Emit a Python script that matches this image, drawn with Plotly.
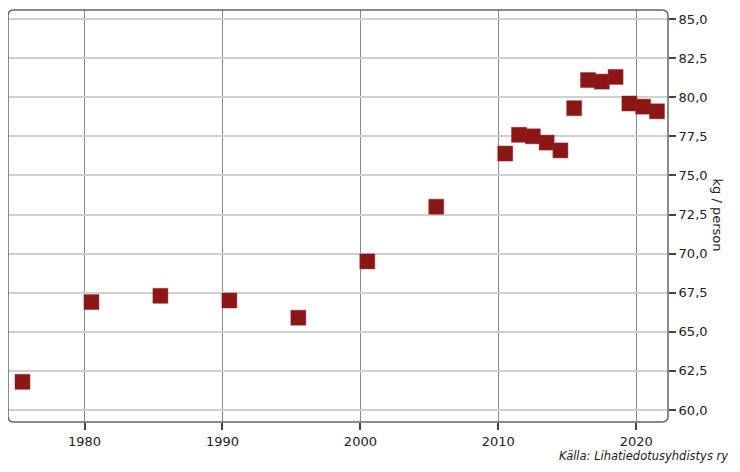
import plotly.graph_objects as go

years = [1975, 1980, 1985, 1990, 1995, 2000, 2005, 2010, 2011, 2012, 2013, 2014,
         2015, 2016, 2017, 2018, 2019, 2020, 2021]
values = [61.8, 66.9, 67.3, 67.0, 65.9, 69.5, 73.0, 76.4, 77.6, 77.5, 77.1, 76.6,
          79.3, 81.1, 81.0, 81.3, 79.6, 79.4, 79.1]
x_ticks = [1980, 1990, 2000, 2010, 2020]
y_ticks = [60, 62.5, 65, 67.5, 70, 72.5, 75, 77.5, 80, 82.5, 85]

# page body has an 8px margin, so the figure is drawn at offset (8, 8)
W, H = 732, 464
ML, MR, MT, MB = 0, 72, 2, 50
pw, ph = W - ML - MR, H - MT - MB

# mid-year placement
xs = [y + 0.5 for y in years]

fig = go.Figure()
fig.add_trace(go.Scatter(
    x=xs, y=values, mode="markers",
    marker=dict(symbol="square", size=15, color="#8b1616",
                line=dict(color="#9a2a2a", width=0.5)),
    hoverinfo="x+y", showlegend=False,
))

# rounded border path in paper coords
r = 6
rx, ry = r / pw, r / ph
path = (f"M {rx},0 L {1-rx},0 Q 1,0 1,{ry} L 1,{1-ry} Q 1,1 {1-rx},1 "
        f"L {rx},1 Q 0,1 0,{1-ry} L 0,{ry} Q 0,0 {rx},0 Z")

fig.update_layout(
    width=W, height=H,
    margin=dict(l=ML, r=MR, t=MT, b=MB),
    paper_bgcolor="white", plot_bgcolor="white",
    separators=",.",
    font=dict(family="DejaVu Sans, Verdana, sans-serif", size=13, color="#222"),
    xaxis=dict(
        range=[1974.45, 2022.3], tickvals=x_ticks, ticktext=[str(t) for t in x_ticks],
        showgrid=True, gridcolor="#8a8a8a", gridwidth=1,
        ticks="outside", ticklen=7, tickcolor="#444", tickwidth=1.5,
        zeroline=False, showline=False, tickfont=dict(size=13),
    ),
    yaxis=dict(
        range=[59.23, 85.58], side="right", tickvals=y_ticks, tickformat=".1f",
        showgrid=True, gridcolor="#d0d0d0", gridwidth=2,
        ticks="outside", ticklen=7, tickcolor="#444", tickwidth=1.5,
        zeroline=False, showline=False, tickfont=dict(size=13),
    ),
    shapes=[dict(type="path", xref="paper", yref="paper", path=path,
                 line=dict(color="#666", width=1.5), layer="above")],
    annotations=[
        dict(text="kg / person", textangle=90, xref="paper", yref="paper",
             x=1 + 59 / pw, y=(H - MB - 207) / ph, showarrow=False,
             font=dict(size=13, color="#222")),
        dict(text="<i>Källa: Lihatiedotusyhdistys ry</i>", xref="paper", yref="paper",
             x=1 + 62 / pw, y=-(448 - (H - MB)) / ph, xanchor="right", yanchor="middle",
             showarrow=False, font=dict(size=11.5, color="#222")),
    ],
)

fig.write_html("out.html")
